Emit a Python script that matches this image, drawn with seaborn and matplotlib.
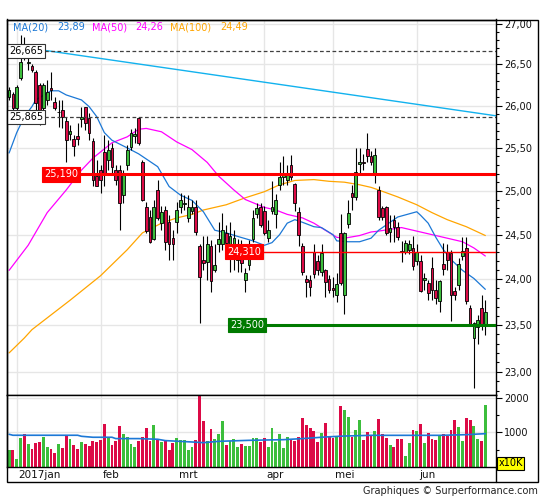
import numpy as np
import matplotlib
matplotlib.use("Agg")
import matplotlib.pyplot as plt
import matplotlib.transforms as mtransforms
from matplotlib.ticker import FixedLocator, FixedFormatter, NullFormatter
from matplotlib.patches import Rectangle
import seaborn as sns

sns.set_theme(style="white")
plt.rcParams['font.family'] = ['DejaVu Sans']

# ---------------- data ----------------
opens = [26.10, 26.14, 25.97, 26.33, 26.70, 26.52, 26.48, 26.41, 26.25, 25.97,
         26.07, 26.21, 26.04, 25.92, 25.95, 25.82, 25.66, 25.60, 25.64, 25.84,
         25.98, 25.85, 25.58, 25.17, 25.24, 25.45, 25.36, 25.50, 25.24, 25.24,
         24.95, 25.30, 25.51, 25.64, 25.85, 25.33, 24.81, 24.70, 24.45, 25.01,
         24.63, 24.78, 24.64, 24.46, 24.64, 24.81, 24.85, 24.69, 24.77, 24.81,
         24.37, 24.22, 24.19, 24.37, 24.10, 24.40, 24.39, 24.52, 24.28, 24.26,
         24.22, 24.33, 23.99, 24.16, 24.45, 24.74, 24.81, 24.77, 24.46, 24.77,
         24.74, 25.07, 25.16, 25.13, 25.30, 25.08, 24.76, 24.37, 24.00, 23.99,
         24.30, 24.20, 24.08, 24.10, 24.00, 23.91, 23.83, 24.52, 23.83, 24.62,
         24.98, 24.93, 25.31, 25.33, 25.49, 25.41, 25.20, 25.01, 24.80, 24.81,
         24.53, 24.67, 24.59, 24.32, 24.31, 24.33, 24.35, 24.20, 24.20, 23.99,
         23.96, 24.13, 23.88, 23.76, 24.17, 24.30, 24.29, 23.87, 23.94, 24.26,
         24.35, 23.69, 23.36, 23.48, 23.69, 23.50]
highs = [26.22, 26.17, 26.25, 26.86, 26.84, 26.62, 26.51, 26.43, 26.27, 26.27,
         26.31, 26.41, 26.10, 26.07, 26.07, 25.86, 25.77, 25.65, 25.79, 25.98,
         25.99, 25.91, 25.62, 25.36, 25.30, 25.65, 25.59, 25.56, 25.30, 25.30,
         25.24, 25.53, 25.72, 25.74, 25.86, 25.36, 24.87, 24.78, 24.89, 25.13,
         24.83, 24.83, 24.72, 24.55, 24.87, 24.97, 24.95, 24.95, 24.89, 24.89,
         24.39, 24.48, 24.48, 24.44, 24.39, 24.64, 24.75, 24.61, 24.64, 24.55,
         24.45, 24.44, 24.13, 24.44, 24.78, 24.86, 24.86, 24.83, 24.67, 25.11,
         24.96, 25.33, 25.40, 25.30, 25.42, 25.09, 24.81, 24.41, 24.05, 24.05,
         24.39, 24.27, 24.39, 24.12, 24.05, 24.03, 24.07, 24.74, 24.53, 24.89,
         25.07, 25.50, 25.50, 25.43, 25.68, 25.46, 25.50, 25.06, 24.83, 24.83,
         24.72, 24.72, 24.64, 24.43, 24.44, 24.44, 24.49, 24.39, 24.27, 24.07,
         23.99, 24.25, 23.99, 23.99, 24.41, 24.39, 24.33, 23.92, 24.24, 24.47,
         24.47, 23.72, 23.53, 23.61, 23.83, 23.77]
lows = [26.07, 25.95, 25.95, 26.31, 26.55, 26.43, 26.41, 25.95, 25.77, 25.92,
        26.01, 26.07, 25.95, 25.75, 25.74, 25.33, 25.59, 25.40, 25.53, 25.75,
        25.71, 25.59, 25.05, 25.05, 24.98, 25.05, 25.24, 25.21, 25.07, 24.55,
        24.86, 25.24, 25.48, 25.56, 25.53, 24.88, 24.52, 24.41, 24.44, 24.67,
        24.55, 24.33, 24.22, 24.22, 24.52, 24.75, 24.78, 24.64, 24.73, 24.50,
        23.52, 24.10, 23.99, 23.86, 24.08, 24.31, 24.33, 24.33, 24.08, 24.10,
        24.08, 24.08, 23.86, 24.10, 24.42, 24.69, 24.59, 24.50, 24.42, 24.74,
        24.57, 25.01, 25.07, 25.07, 25.13, 24.77, 24.37, 24.05, 23.81, 23.82,
        24.02, 24.05, 24.04, 23.81, 23.85, 23.81, 23.75, 23.94, 23.62, 24.58,
        24.78, 24.89, 25.18, 25.24, 25.33, 25.30, 25.09, 24.67, 24.67, 24.50,
        24.42, 24.42, 24.44, 24.19, 24.28, 24.28, 24.10, 24.16, 23.86, 23.88,
        23.77, 23.77, 23.73, 23.64, 24.05, 24.10, 23.54, 23.77, 23.88, 24.22,
        23.73, 23.50, 22.83, 23.30, 23.45, 23.39]
closes = [26.19, 25.97, 26.22, 26.53, 26.60, 26.53, 26.43, 26.03, 25.92, 26.25,
          26.17, 26.19, 25.97, 25.93, 25.86, 25.59, 25.70, 25.52, 25.60, 25.86,
          25.79, 25.67, 25.13, 25.06, 25.13, 25.21, 25.48, 25.28, 25.13, 24.86,
          25.18, 25.48, 25.67, 25.66, 25.56, 24.89, 24.54, 24.42, 24.81, 24.69,
          24.76, 24.42, 24.39, 24.39, 24.78, 24.89, 24.86, 24.81, 24.81, 24.53,
          24.03, 24.18, 24.39, 23.98, 24.16, 24.45, 24.55, 24.41, 24.48, 24.46,
          24.35, 24.18, 24.07, 24.35, 24.69, 24.80, 24.61, 24.52, 24.55, 24.81,
          24.90, 25.16, 25.18, 25.18, 25.16, 24.86, 24.50, 24.08, 23.97, 23.92,
          24.06, 24.10, 24.29, 23.97, 23.88, 23.88, 23.95, 23.96, 24.52, 24.75,
          24.93, 25.22, 25.33, 25.32, 25.40, 25.34, 25.42, 24.70, 24.70, 24.52,
          24.58, 24.59, 24.47, 24.30, 24.41, 24.39, 24.15, 24.30, 23.87, 24.01,
          23.85, 23.88, 23.80, 23.98, 24.12, 24.22, 23.83, 23.83, 24.17, 24.32,
          23.76, 23.51, 23.52, 23.55, 23.51, 23.64]
volumes = [483, 483, 242, 840, 947, 667, 522, 696, 725, 870,
           580, 531, 406, 657, 551, 908, 811, 647, 522, 725,
           667, 609, 753, 725, 783, 1246, 850, 638, 753, 1188,
           956, 870, 676, 580, 753, 870, 1130, 753, 1217, 792,
           725, 753, 493, 696, 840, 773, 773, 493, 580, 773,
           2150, 1333, 753, 1101, 811, 966, 1333, 638, 744, 811,
           589, 667, 613, 613, 840, 840, 725, 840, 580, 1130,
           725, 956, 551, 870, 792, 753, 870, 1420, 1217, 1140,
           1043, 725, 985, 1275, 870, 840, 870, 1768, 1662, 1449,
           870, 1063, 1362, 792, 1014, 908, 1043, 1391, 947, 840,
           628, 589, 811, 811, 328, 696, 1072, 1043, 1246, 705,
           976, 802, 773, 918, 956, 908, 1072, 1362, 1150, 753,
           1420, 1362, 1198, 811, 753, 1806]

ma20_idx = [0, 2, 4, 6, 7, 11, 13, 15, 19, 21, 23, 25, 27, 31, 34, 39, 42, 45, 48, 51,
            54, 57, 60, 64, 67, 69, 71, 73, 75, 77, 80, 82, 85, 86, 89, 92, 95, 97, 100, 102,
            107, 108, 110, 112, 114, 116, 119, 122, 125]
ma20 = [25.44, 25.68, 25.87, 25.99, 26.07, 26.18, 26.18, 26.13, 26.07, 25.99,
        25.87, 25.68, 25.59, 25.50, 25.43, 25.28, 25.05, 24.95, 24.89, 24.76,
        24.55, 24.52, 24.48, 24.43, 24.38, 24.41, 24.50, 24.63, 24.67, 24.64,
        24.59, 24.58, 24.50, 24.43, 24.42, 24.42, 24.46, 24.55, 24.64, 24.70,
        24.76, 24.72, 24.63, 24.47, 24.33, 24.22, 24.10, 24.01, 23.89]
ma50_idx = [0, 5, 10, 15, 19, 22, 27, 31, 34, 36, 40, 44, 48, 52, 55, 59, 62, 67, 70, 73,
            77, 80, 83, 86, 88, 92, 95, 97, 103, 109, 115, 119, 122, 125]
ma50 = [24.10, 24.38, 24.75, 25.01, 25.24, 25.38, 25.56, 25.63, 25.72, 25.73,
        25.69, 25.57, 25.48, 25.33, 25.17, 25.01, 24.90, 24.81, 24.78, 24.73,
        24.69, 24.63, 24.55, 24.47, 24.46, 24.49, 24.53, 24.54, 24.58, 24.52,
        24.46, 24.42, 24.35, 24.26]
ma100_idx = [0, 4, 6, 16, 24, 31, 35, 40, 44, 48, 51, 57, 62, 67, 71, 75, 80, 84, 88, 92,
             95, 97, 102, 107, 111, 115, 120, 125]
ma100 = [23.20, 23.36, 23.45, 23.77, 24.04, 24.33, 24.52, 24.63, 24.69, 24.73,
         24.78, 24.84, 24.92, 24.99, 25.07, 25.12, 25.13, 25.11, 25.10, 25.07,
         25.04, 25.01, 24.93, 24.84, 24.75, 24.67, 24.59, 24.49]
vol_ma_idx = [0, 1, 18, 19, 22, 27, 28, 34, 39, 41, 48, 51, 55, 63, 72, 77, 83, 88, 95, 113, 120, 125]
vol_ma = [948, 920, 920, 890, 862, 862, 823, 823, 804, 765, 725, 705, 744, 773, 792, 823,
          870, 898, 918, 918, 937, 966]

trend_idx = [-0.55, 127.8]
trend_vals = [26.74, 25.88]

levels = [26.665, 25.865, 25.190, 24.310, 23.500]
level_labels = ["26,665", "25,865", "25,190", "24,310", "23,500"]

month_idx = [2, 24, 44, 67, 85, 107]
month_labels = ["2017jan", "feb", "mrt", "apr", "mei", "jun"]

price_ticks = [23.0, 23.5, 24.0, 24.5, 25.0, 25.5, 26.0, 26.5, 27.0]
price_tick_labels = ["23,00", "23,50", "24,00", "24,50", "25,00", "25,50", "26,00", "26,50", "27,00"]
price_minor = [22.8, 22.9, 23.1, 23.2, 23.3, 23.4, 23.6, 23.7, 23.8, 23.9, 24.1, 24.2, 24.3, 24.4,
               24.6, 24.7, 24.8, 24.9, 25.1, 25.2, 25.3, 25.4, 25.6, 25.7, 25.8, 25.9, 26.1, 26.2,
               26.3, 26.4, 26.6, 26.7, 26.8, 26.9]
vol_ticks = [1000, 2000]
vol_tick_labels = ["1000", "2000"]
vol_minor = [500, 1500]

# ---------------- styling ----------------
GREEN = '#3cbe3c'
RED = '#dc0a46'
C_MA20 = '#1c78d6'
C_MA50 = '#ff00ff'
C_MA100 = '#ffa500'
C_TREND = '#12b2ee'
GRID = '#e6e6e6'

W, H = 545, 500
fig = plt.figure(figsize=(5.45, 5.0), dpi=100)
fig.patch.set_facecolor('white')


def fx(px):
    return px / W


def fy(py):
    return 1 - py / H


ax = fig.add_axes([fx(7), fy(395), fx(496) - fx(7), fy(19.5) - fy(395)])
axv = fig.add_axes([fx(7), fy(467), fx(496) - fx(7), fy(395.3) - fy(467)])

o = np.array(opens); hi = np.array(highs); lo = np.array(lows); c = np.array(closes)
idx = np.arange(len(o))
cols = np.where(c >= o, GREEN, RED)

# ---- price panel ----
ax.set_yscale('log')
ax.set_xlim(-0.55, 127.8)
ax.set_ylim(22.754, 27.055)

ax.set_xticks(month_idx)
ax.tick_params(axis='x', which='both', length=0, labelbottom=False)
ax.yaxis.set_major_locator(FixedLocator(price_ticks))
ax.yaxis.set_major_formatter(FixedFormatter(price_tick_labels))
ax.yaxis.set_minor_locator(FixedLocator(price_minor))
ax.yaxis.set_minor_formatter(NullFormatter())
ax.yaxis.tick_right()
ax.tick_params(axis='y', which='major', direction='out', length=4.5, width=0.8,
               pad=1.5, labelsize=7, color='black', labelcolor='#111111')
ax.tick_params(axis='y', which='minor', direction='out', length=2.5, width=0.8, color='black')
ax.grid(True, which='major', color=GRID, linewidth=1.0)
ax.set_axisbelow(True)

sns.lineplot(x=ma100_idx, y=ma100, ax=ax, color=C_MA100, lw=0.9, estimator=None, zorder=2)
sns.lineplot(x=ma50_idx, y=ma50, ax=ax, color=C_MA50, lw=0.9, estimator=None, zorder=2)
sns.lineplot(x=ma20_idx, y=ma20, ax=ax, color=C_MA20, lw=0.9, estimator=None, zorder=2)
sns.lineplot(x=trend_idx, y=trend_vals, ax=ax, color=C_TREND, lw=1.0, estimator=None, zorder=2)

ax.vlines(idx, lo, hi, color='black', lw=0.8, zorder=3)
ax.bar(idx, np.abs(c - o), bottom=np.minimum(o, c), width=0.72, color=cols,
       edgecolor='black', linewidth=0.6, zorder=4)

blend = mtransforms.blended_transform_factory(ax.transAxes, ax.transData)
level_style = [
    dict(start=0.0, color='#404040', lw=0.9, ls=(0, (3, 2)), fc='white', tc='black', ec='#333333'),
    dict(start=0.0, color='#404040', lw=0.9, ls=(0, (3, 2)), fc='white', tc='black', ec='#333333'),
    dict(start=0.072, color='#ff0000', lw=2.2, ls='-', fc='#ff0000', tc='white', ec='#ff0000'),
    dict(start=0.446, color='#ff0000', lw=1.0, ls='-', fc='#ff0000', tc='white', ec='#ff0000'),
    dict(start=0.452, color='#007a00', lw=2.2, ls='-', fc='#007a00', tc='white', ec='#007a00'),
]
for lvl, lab, st in zip(levels, level_labels, level_style):
    ax.plot([st['start'], 1.0], [lvl, lvl], transform=blend, color=st['color'],
            lw=st['lw'], ls=st['ls'], zorder=5, solid_capstyle='butt')
    ax.text(st['start'] + 0.004, lvl, lab, transform=blend, ha='left', va='center',
            fontsize=7, color=st['tc'], zorder=7,
            bbox=dict(boxstyle='square,pad=0.22', fc=st['fc'], ec=st['ec'], lw=0.8))

ax.set_xlabel('')
ax.set_ylabel('')
for s in ax.spines.values():
    s.set_color('black')
    s.set_linewidth(1.0)

# legend texts
leg_items = [("MA(20)", ma20[-1], C_MA20, 13, 57),
             ("MA(50)", ma50[-1], C_MA50, 92, 135),
             ("MA(100)", ma100[-1], C_MA100, 170, 220)]
for name, val, col, x1, x2 in leg_items:
    fig.text(fx(x1), fy(27), name, color=col, fontsize=7, ha='left', va='center')
    fig.text(fx(x2), fy(27), f"{val:.2f}".replace('.', ','), color=col, fontsize=7,
             ha='left', va='center')

# ---- volume panel ----
axv.set_xlim(-0.55, 127.8)
axv.set_ylim(0, 2078)
axv.bar(idx, volumes, width=0.75, color=cols, linewidth=0, zorder=2)
sns.lineplot(x=vol_ma_idx, y=vol_ma, ax=axv, color=C_MA20, lw=1.2, estimator=None, zorder=3)
axv.set_xticks(month_idx)
axv.set_xticklabels(month_labels)
axv.tick_params(axis='x', which='both', length=0, pad=2.5, labelsize=7.5, labelcolor='#111111')
offset = mtransforms.ScaledTranslation(2 / 100, 0, fig.dpi_scale_trans)
for lbl in axv.get_xticklabels():
    lbl.set_horizontalalignment('left')
    lbl.set_transform(lbl.get_transform() + offset)
axv.yaxis.set_major_locator(FixedLocator(vol_ticks))
axv.yaxis.set_major_formatter(FixedFormatter(vol_tick_labels))
axv.yaxis.set_minor_locator(FixedLocator(vol_minor))
axv.yaxis.set_minor_formatter(NullFormatter())
axv.yaxis.tick_right()
axv.tick_params(axis='y', which='major', direction='out', length=4.5, width=0.8,
                pad=1.5, labelsize=7, color='black', labelcolor='#111111')
axv.tick_params(axis='y', which='minor', direction='out', length=2.5, width=0.8, color='black')
axv.grid(True, which='major', color=GRID, linewidth=1.0)
axv.set_axisbelow(True)
axv.set_xlabel('')
axv.set_ylabel('')
for s in axv.spines.values():
    s.set_color('black')
    s.set_linewidth(1.0)

# ---- frame and annotations ----
fig.add_artist(Rectangle((fx(7), fy(482)), fx(538.3) - fx(7), fy(19.5) - fy(482),
                         fill=False, ec='black', lw=1.0, transform=fig.transFigure))
fig.add_artist(plt.Line2D([fx(496), fx(496)], [fy(467), fy(482)], color='black', lw=1.0,
                          transform=fig.transFigure))
fig.text(fx(498.5), fy(463.5), "x10K", fontsize=7, ha='left', va='center', color='black',
         bbox=dict(boxstyle='square,pad=0.15', fc='#ffff00', ec='black', lw=0.8))
fig.text(fx(538), fy(491), "Graphiques \u00a9 Surperformance.com", ha='right', va='center',
         fontsize=7, color='#222222')

fig.savefig("out.png", dpi=100, facecolor='white')
